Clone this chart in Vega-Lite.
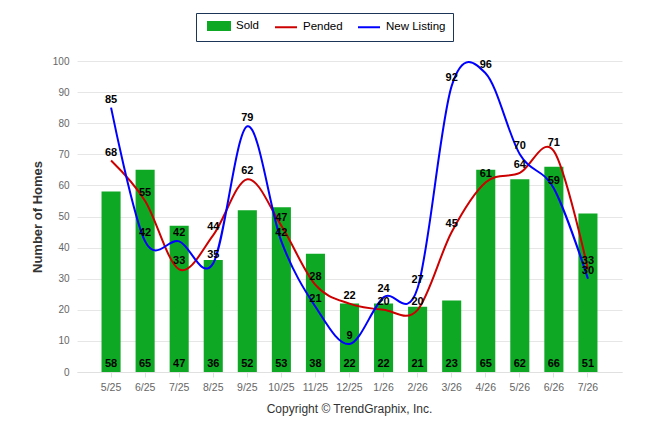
{
  "$schema": "https://vega.github.io/schema/vega-lite/v6.json",
  "autosize": "none",
  "width": 545,
  "height": 311,
  "padding": {"left": 77, "top": 61, "right": 24, "bottom": 62},
  "background": "white",
  "title": {
    "text": "Copyright © TrendGraphix, Inc.",
    "orient": "bottom",
    "anchor": "middle",
    "offset": 11,
    "font": "Liberation Sans",
    "fontSize": 12,
    "fontWeight": "normal",
    "color": "#333333"
  },
  "config": {
    "view": {"stroke": null},
    "font": "Liberation Sans"
  },
  "data": {
    "values": [
      {"month": "5/25", "series": "Sold", "value": 58},
      {"month": "6/25", "series": "Sold", "value": 65},
      {"month": "7/25", "series": "Sold", "value": 47},
      {"month": "8/25", "series": "Sold", "value": 36},
      {"month": "9/25", "series": "Sold", "value": 52},
      {"month": "10/25", "series": "Sold", "value": 53},
      {"month": "11/25", "series": "Sold", "value": 38},
      {"month": "12/25", "series": "Sold", "value": 22},
      {"month": "1/26", "series": "Sold", "value": 22},
      {"month": "2/26", "series": "Sold", "value": 21},
      {"month": "3/26", "series": "Sold", "value": 23},
      {"month": "4/26", "series": "Sold", "value": 65},
      {"month": "5/26", "series": "Sold", "value": 62},
      {"month": "6/26", "series": "Sold", "value": 66},
      {"month": "7/26", "series": "Sold", "value": 51},
      {"month": "5/25", "series": "Pended", "value": 68},
      {"month": "6/25", "series": "Pended", "value": 55},
      {"month": "7/25", "series": "Pended", "value": 33},
      {"month": "8/25", "series": "Pended", "value": 44},
      {"month": "9/25", "series": "Pended", "value": 62},
      {"month": "10/25", "series": "Pended", "value": 47},
      {"month": "11/25", "series": "Pended", "value": 28},
      {"month": "12/25", "series": "Pended", "value": 22},
      {"month": "1/26", "series": "Pended", "value": 20},
      {"month": "2/26", "series": "Pended", "value": 20},
      {"month": "3/26", "series": "Pended", "value": 45},
      {"month": "4/26", "series": "Pended", "value": 61},
      {"month": "5/26", "series": "Pended", "value": 64},
      {"month": "6/26", "series": "Pended", "value": 71},
      {"month": "7/26", "series": "Pended", "value": 33},
      {"month": "5/25", "series": "New Listing", "value": 85},
      {"month": "6/25", "series": "New Listing", "value": 42},
      {"month": "7/25", "series": "New Listing", "value": 42},
      {"month": "8/25", "series": "New Listing", "value": 35},
      {"month": "9/25", "series": "New Listing", "value": 79},
      {"month": "10/25", "series": "New Listing", "value": 42},
      {"month": "11/25", "series": "New Listing", "value": 21},
      {"month": "12/25", "series": "New Listing", "value": 9},
      {"month": "1/26", "series": "New Listing", "value": 24},
      {"month": "2/26", "series": "New Listing", "value": 27},
      {"month": "3/26", "series": "New Listing", "value": 92},
      {"month": "4/26", "series": "New Listing", "value": 96},
      {"month": "5/26", "series": "New Listing", "value": 70},
      {"month": "6/26", "series": "New Listing", "value": 59},
      {"month": "7/26", "series": "New Listing", "value": 30}
    ]
  },
  "encoding": {
    "x": {
      "field": "month",
      "type": "ordinal",
      "sort": null,
      "title": null,
      "scale": {"paddingInner": 0.44, "paddingOuter": 0.72},
      "axis": {
        "labelAngle": 0,
        "labelColor": "#666666",
        "labelFontSize": 10.5,
        "labelPadding": 5,
        "domainColor": "#e0e0e0",
        "tickColor": "#e0e0e0",
        "tickSize": 5,
        "grid": false
      }
    },
    "y": {
      "field": "value",
      "type": "quantitative",
      "title": "Number of Homes",
      "scale": {"domain": [0, 100], "nice": false},
      "axis": {
        "values": [0, 10, 20, 30, 40, 50, 60, 70, 80, 90, 100],
        "domain": false,
        "ticks": false,
        "grid": true,
        "gridColor": "#e6e6e6",
        "labelColor": "#666666",
        "labelFontSize": 10,
        "labelPadding": 8,
        "titleColor": "#333333",
        "titleFontSize": 13,
        "titleFontWeight": "bold",
        "titlePadding": 8
      }
    }
  },
  "layer": [
    {
      "transform": [{"filter": "datum.series === 'Sold'"}],
      "mark": {"type": "bar", "color": "#0ea825"},
      "encoding": {
        "color": {
          "field": "series",
          "type": "nominal",
          "scale": {
            "domain": ["Sold", "Pended", "New Listing"],
            "range": ["#0ea825", "#cc0000", "#0000ff"]
          },
          "legend": {
            "orient": "none",
            "legendX": 119,
            "legendY": -48,
            "direction": "horizontal",
            "title": null,
            "padding": 7,
            "strokeColor": "#1b3558",
            "fillColor": "white",
            "symbolSize": 100,
            "symbolStrokeWidth": 2,
            "labelFontSize": 11.5,
            "labelColor": "#000000",
            "labelOffset": 21,
            "columnPadding": 10,
            "encode": {
              "symbols": {
                "update": {
                  "shape": {"signal": "datum.value === 'Sold' ? 'M-0.2,-0.8H4.2V0.8H-0.2Z' : 'M-0.2,0H4.2'"},
                  "fill": {"signal": "datum.value === 'Sold' ? '#0ea825' : 'transparent'"},
                  "stroke": {"signal": "datum.value === 'Pended' ? '#cc0000' : datum.value === 'New Listing' ? '#0000ff' : 'transparent'"},
                  "strokeWidth": {"value": 2},
                  "opacity": {"value": 1},
                  "fillOpacity": {"value": 1},
                  "strokeOpacity": {"value": 1}
                }
              }
            }
          }
        }
      }
    },
    {
      "transform": [{"filter": "datum.series !== 'Sold'"}],
      "mark": {"type": "line", "interpolate": "cardinal", "strokeWidth": 2},
      "encoding": {
        "color": {"field": "series", "type": "nominal"}
      }
    },
    {
      "transform": [{"filter": "datum.series !== 'Sold'"}],
      "mark": {"type": "text", "dy": -8, "baseline": "middle", "fontSize": 11, "fontWeight": "bold", "color": "#000000"},
      "encoding": {
        "text": {"field": "value", "type": "quantitative"}
      }
    },
    {
      "transform": [{"filter": "datum.series === 'Sold'"}],
      "mark": {"type": "text", "dy": -8, "baseline": "middle", "fontSize": 11, "fontWeight": "bold", "color": "#000000"},
      "encoding": {
        "y": {"datum": 0},
        "text": {"field": "value", "type": "quantitative"}
      }
    }
  ]
}
